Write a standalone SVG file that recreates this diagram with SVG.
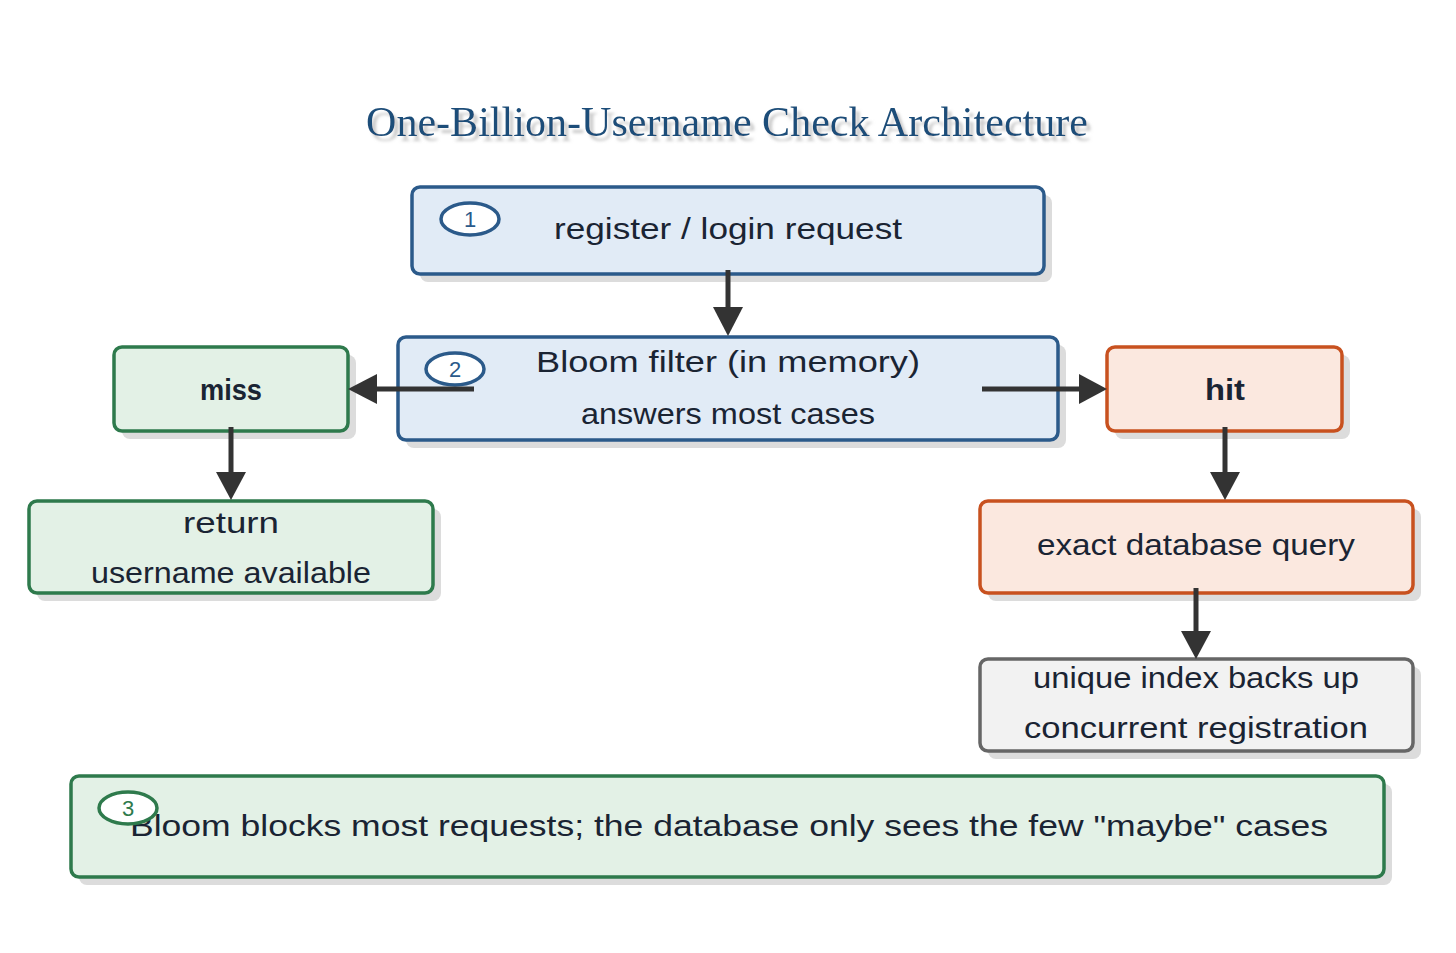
<svg xmlns="http://www.w3.org/2000/svg" width="1456" height="953" viewBox="0 0 1456 953">
<defs>
<filter id="tshadow" x="-5%" y="-30%" width="110%" height="160%">
<feDropShadow dx="4" dy="5" stdDeviation="1.5" flood-color="#bdbdbd" flood-opacity="0.8"/>
</filter>
<style>
.shadow{fill:#dcdcdc}
.box{stroke-width:3.5}
.blue{fill:#e1ebf6;stroke:#2b5a8a}
.green{fill:#e3f1e6;stroke:#2e7a4c}
.orange{fill:#fbe8df;stroke:#c8511f}
.grey{fill:#f2f2f2;stroke:#666666}
.lbl{font-family:"Liberation Sans","DejaVu Sans",sans-serif;font-size:30px;fill:#1a2433;text-anchor:middle}
.bold{font-weight:bold}
.num{font-family:"Liberation Sans","DejaVu Sans",sans-serif;font-size:22px;text-anchor:middle}
.badge{fill:#ffffff;stroke-width:3.5}
.edge{stroke:#333333;stroke-width:5;fill:none}
.head{fill:#333333}
.title{font-family:"Liberation Serif","DejaVu Serif",serif;font-size:42px;text-anchor:middle}
</style>
</defs>
<rect width="1456" height="953" fill="#ffffff"/>
<g id="title">
<text class="title" x="727" y="136" fill="#1f4e79" filter="url(#tshadow)" textLength="722" lengthAdjust="spacingAndGlyphs">One-Billion-Username Check Architecture</text>
</g>
<g id="node-request">
<rect class="shadow" x="420" y="195" width="632" height="87" rx="8"/>
<rect class="box blue" x="412" y="187" width="632" height="87" rx="8"/>
<ellipse class="badge" cx="470" cy="219" rx="29" ry="16" stroke="#2b5a8a"/>
<text class="num" x="470" y="227" fill="#2b5a8a">1</text>
<text class="lbl" x="728" y="239" textLength="348" lengthAdjust="spacingAndGlyphs">register / login request</text>
</g>
<g id="node-bloom">
<rect class="shadow" x="406" y="345" width="660" height="103" rx="8"/>
<rect class="box blue" x="398" y="337" width="660" height="103" rx="8"/>
<ellipse class="badge" cx="455" cy="369" rx="29" ry="16" stroke="#2b5a8a"/>
<text class="num" x="455" y="377" fill="#2b5a8a">2</text>
<text class="lbl" x="728" y="372" textLength="384" lengthAdjust="spacingAndGlyphs">Bloom filter (in memory)</text>
<text class="lbl" x="728" y="424" textLength="294" lengthAdjust="spacingAndGlyphs">answers most cases</text>
</g>
<g id="node-miss">
<rect class="shadow" x="122" y="355" width="234" height="84" rx="8"/>
<rect class="box green" x="114" y="347" width="234" height="84" rx="8"/>
<text class="lbl bold" x="231" y="400" textLength="62" lengthAdjust="spacingAndGlyphs">miss</text>
</g>
<g id="node-return">
<rect class="shadow" x="37" y="509" width="404" height="92" rx="8"/>
<rect class="box green" x="29" y="501" width="404" height="92" rx="8"/>
<text class="lbl" x="231" y="533" textLength="96" lengthAdjust="spacingAndGlyphs">return</text>
<text class="lbl" x="231" y="583" textLength="280" lengthAdjust="spacingAndGlyphs">username available</text>
</g>
<g id="node-hit">
<rect class="shadow" x="1115" y="355" width="235" height="84" rx="8"/>
<rect class="box orange" x="1107" y="347" width="235" height="84" rx="8"/>
<text class="lbl bold" x="1225" y="400" textLength="40" lengthAdjust="spacingAndGlyphs">hit</text>
</g>
<g id="node-query">
<rect class="shadow" x="988" y="509" width="433" height="92" rx="8"/>
<rect class="box orange" x="980" y="501" width="433" height="92" rx="8"/>
<text class="lbl" x="1196" y="555" textLength="318" lengthAdjust="spacingAndGlyphs">exact database query</text>
</g>
<g id="node-index">
<rect class="shadow" x="988" y="667" width="433" height="92" rx="8"/>
<rect class="box grey" x="980" y="659" width="433" height="92" rx="8"/>
<text class="lbl" x="1196" y="688" textLength="326" lengthAdjust="spacingAndGlyphs">unique index backs up</text>
<text class="lbl" x="1196" y="738" textLength="344" lengthAdjust="spacingAndGlyphs">concurrent registration</text>
</g>
<g id="node-summary">
<rect class="shadow" x="79" y="784" width="1313" height="101" rx="8"/>
<rect class="box green" x="71" y="776" width="1313" height="101" rx="8"/>
<text class="lbl" x="729" y="836" textLength="1198" lengthAdjust="spacingAndGlyphs">Bloom blocks most requests; the database only sees the few "maybe" cases</text>
<ellipse class="badge" cx="128" cy="808" rx="29" ry="16" stroke="#2e7a4c"/>
<text class="num" x="128" y="816" fill="#2e7a4c">3</text>
</g>
<g id="connectors">
<line class="edge" x1="728" y1="270" x2="728" y2="310"/>
<polygon class="head" points="713,307 743,307 728,336"/>
<line class="edge" x1="474" y1="389" x2="374" y2="389"/>
<polygon class="head" points="377,374 377,404 348,389"/>
<line class="edge" x1="231" y1="427" x2="231" y2="474"/>
<polygon class="head" points="216,472 246,472 231,500"/>
<line class="edge" x1="982" y1="389" x2="1082" y2="389"/>
<polygon class="head" points="1079,374 1079,404 1107,389"/>
<line class="edge" x1="1225" y1="427" x2="1225" y2="474"/>
<polygon class="head" points="1210,472 1240,472 1225,500"/>
<line class="edge" x1="1196" y1="588" x2="1196" y2="633"/>
<polygon class="head" points="1181,631 1211,631 1196,659"/>
</g>
</svg>
